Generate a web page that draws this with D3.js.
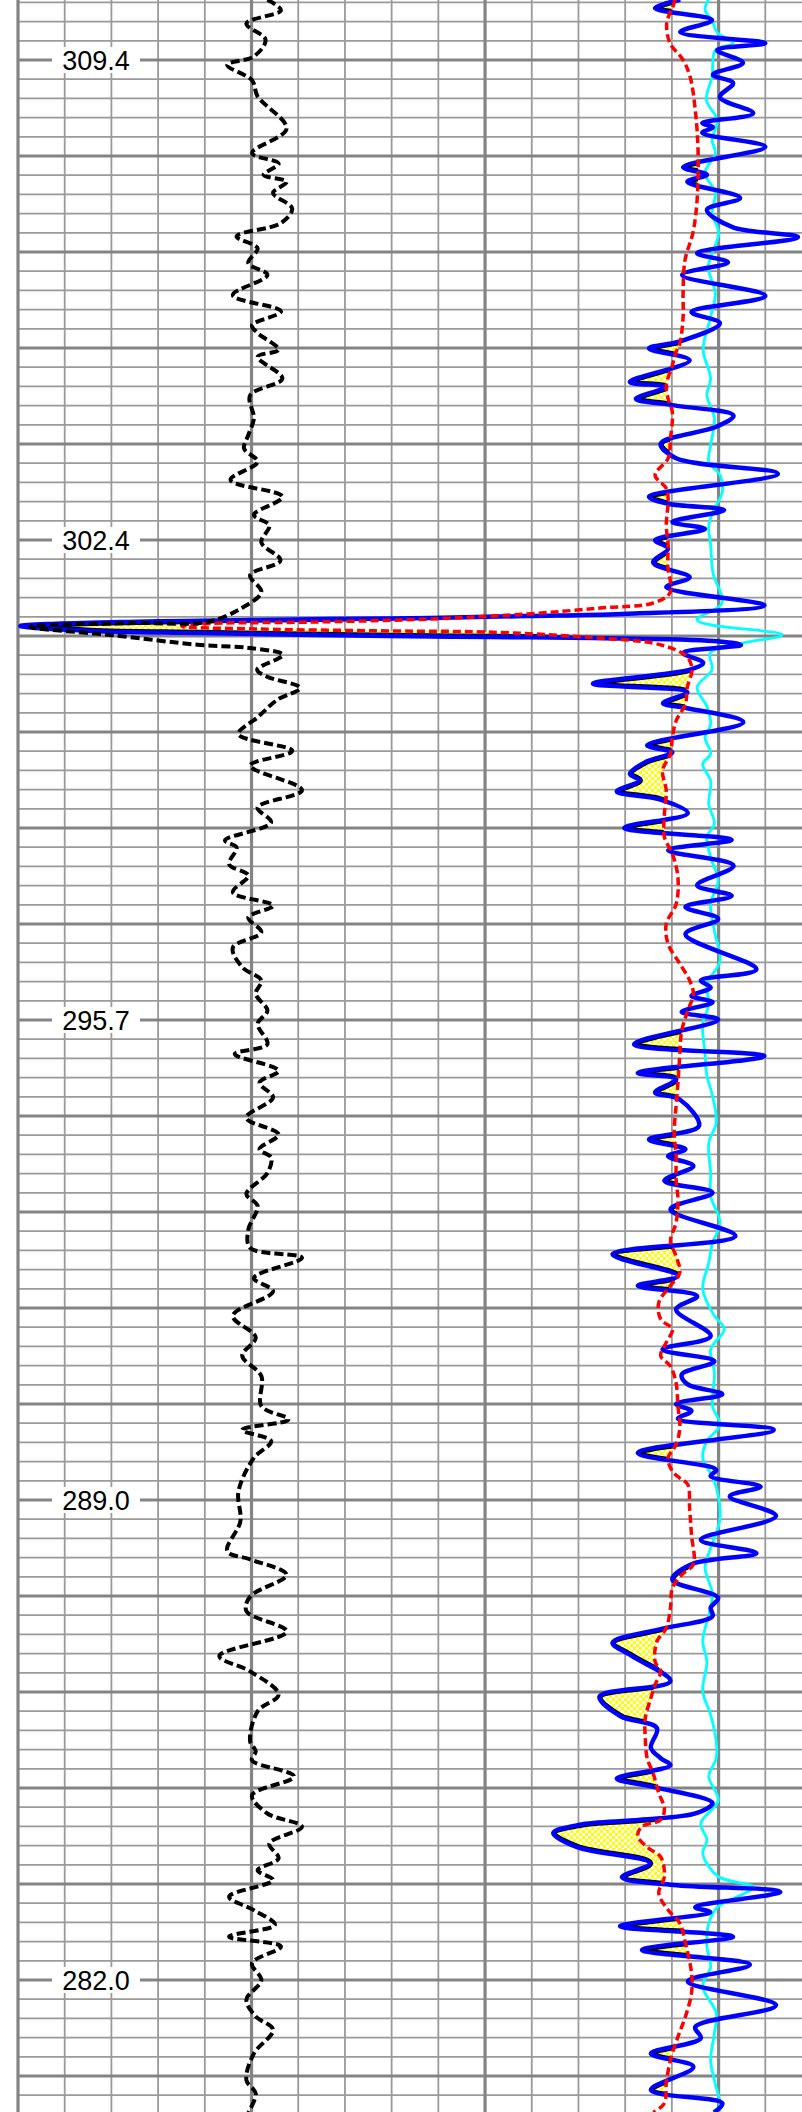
<!DOCTYPE html>
<meta charset="utf-8">
<style>
    body { margin: 0; background: #fff; }
    svg { display: block; }
    .lbl { font-family: "Liberation Sans", Arial, sans-serif; font-size: 27px; fill: #000; }
</style>
<svg width="802" height="2112"></svg>
<script src="https://cdnjs.cloudflare.com/ajax/libs/d3/7.8.5/d3.min.js"></script>
<script>
    // depth labels on the left, one every 25 grid rows
    var depthLabels = ["309.4", "302.4", "295.7", "289.0", "282.0"];

    var blackCurve = [
        [310.26,53.4],[310.11,56.3],[309.92,48.9],[309.69,53.0],[309.45,50.5],[309.33,44.8],[309.11,50.1],[308.88,51.3],
        [308.42,57.5],[308.07,50.1],[307.92,55.8],[307.76,52.6],[307.66,57.5],[307.50,54.6],[307.28,58.7],[307.07,56.3],
        [306.88,46.8],[306.71,51.3],[306.50,49.3],[306.33,53.4],[306.04,46.0],[305.81,56.3],[305.61,50.1],[305.50,51.3],
        [305.26,55.8],[305.16,51.3],[304.85,56.6],[304.61,49.7],[304.28,50.5],[304.04,49.3],[303.85,48.4],[303.66,51.3],
        [303.40,45.5],[303.16,56.6],[302.90,50.5],[302.75,53.8],[302.51,52.1],[302.25,56.2],[302.04,49.7],[301.80,52.1],
        [301.56,47.6],[301.371,40.5],[301.357,24.6],[301.300,2.6],[301.186,19.7],[301.043,39.0],[301.000,49.7],[300.900,56.7],
        [300.69,51.2],[300.59,53.3],[300.43,60.4],[300.26,55.5],[300.01,51.3],[299.77,47.2],[299.53,58.7],[299.32,49.7],
        [298.97,60.8],[298.72,51.3],[298.51,54.2],[298.25,44.3],[298.15,46.8],[297.91,45.2],[297.75,49.3],[297.51,46.0],
        [297.32,54.6],[297.15,49.3],[296.94,52.1],[296.72,46.0],[296.44,48.0],[296.25,52.1],[296.06,50.9],[295.82,53.4],
        [295.63,51.3],[295.34,53.4],[295.20,46.4],[294.96,55.8],[294.79,51.7],[294.58,54.6],[294.29,48.9],[294.05,55.8],
        [293.84,51.7],[293.72,54.2],[293.50,53.4],[293.20,48.9],[293.03,51.3],[292.69,49.3],[292.43,49.7],[292.29,60.8],
        [292.00,50.5],[291.81,54.6],[291.46,46.0],[291.15,50.9],[290.89,48.0],[290.60,52.1],[290.17,52.1],[289.98,57.9],
        [289.83,48.0],[289.67,54.2],[289.43,50.5],[288.95,47.2],[288.52,47.6],[288.10,44.8],[287.98,49.7],[287.76,57.5],
        [287.45,49.7],[287.24,48.9],[286.95,57.5],[286.60,43.1],[286.38,49.7],[286.05,55.8],[285.81,51.3],[285.38,49.7],
        [285.24,50.9],[285.11,50.1],[284.88,59.1],[284.61,50.1],[284.35,53.4],[284.16,60.8],[283.92,53.8],[283.71,55.8],
        [283.54,51.3],[283.40,54.6],[283.16,45.2],[282.97,50.5],[282.76,55.0],[282.59,45.2],[282.45,56.3],[282.21,50.1],
        [281.97,52.1],[281.69,48.9],[281.45,50.9],[281.26,54.6],[280.92,50.5],[280.54,48.9],[280.35,50.9],[280.08,49.3]
    ];

    var blueCurve = [
        [310.26,141.8],[310.14,136.4],[309.97,148.6],[309.80,141.8],[309.64,160.0],[309.54,149.7],[309.36,155.2],[309.19,148.8],
        [309.07,153.1],[308.87,150.3],[308.64,157.4],[308.50,146.5],[308.44,148.8],[308.36,146.5],[308.16,160.0],[307.87,142.4],
        [307.76,147.5],[307.66,143.3],[307.43,154.6],[307.26,147.5],[307.01,153.1],[306.87,167.0],[306.64,145.4],[306.51,152.0],
        [306.33,142.2],[306.03,160.0],[305.80,144.2],[305.64,150.3],[305.38,141.7],[305.28,135.1],[305.11,143.8],[304.80,131.0],
        [304.73,138.8],[304.56,132.3],[304.47,140.1],[304.32,153.2],[304.16,149.5],[303.92,137.6],[303.71,140.9],[303.49,162.7],
        [303.16,135.1],[303.06,139.2],[302.97,151.2],[302.80,140.1],[302.70,147.1],[302.54,136.4],[302.42,139.2],[302.22,136.0],
        [302.01,143.8],[301.87,138.8],[301.61,159.8],[301.486,129.3],[301.457,108.8],[301.429,88.2],[301.414,66.8],[301.400,49.7],
        [301.371,21.8],[301.314,0.5],[301.243,15.4],[301.214,39.0],[301.186,63.6],[301.171,79.2],[301.157,101.5],[301.143,122.9],
        [301.100,149.0],[301.043,154.8],[300.93,142.4],[300.79,146.7],[300.69,143.9],[300.49,123.1],[300.37,143.3],[300.21,138.1],
        [300.14,143.3],[299.94,155.3],[299.61,134.7],[299.51,140.1],[299.37,134.3],[299.20,131.0],[299.11,133.1],[298.95,128.2],
        [298.84,137.2],[298.64,143.4],[298.43,129.8],[298.26,152.8],[298.11,139.2],[297.89,153.2],[297.61,145.4],[297.46,152.8],
        [297.30,142.9],[297.13,149.9],[296.91,142.9],[296.41,158.1],[296.25,146.2],[296.15,148.3],[296.03,144.2],[295.94,148.7],
        [295.80,142.1],[295.69,149.9],[295.34,131.9],[295.17,159.8],[294.93,132.7],[294.84,140.9],[294.65,136.4],[294.55,141.7],
        [294.17,145.8],[293.98,135.1],[293.84,142.9],[293.74,139.2],[293.60,144.6],[293.39,138.4],[293.22,148.7],[292.98,139.7],
        [292.60,153.6],[292.34,127.3],[292.03,141.3],[291.89,132.7],[291.74,145.4],[291.55,140.9],[291.17,148.3],[290.98,138.0],
        [290.81,149.1],[290.62,142.1],[290.48,143.4],[290.34,150.8],[290.20,140.9],[290.10,144.2],[289.99,141.3],[289.83,161.8],
        [289.50,132.7],[289.26,149.5],[289.17,148.3],[289.02,159.0],[288.88,152.4],[288.60,162.3],[288.26,146.2],[288.07,158.1],
        [287.91,144.2],[287.69,140.1],[287.43,149.9],[287.29,148.3],[287.17,148.7],[286.99,138.0],[286.79,127.3],[286.60,131.4],
        [286.24,139.7],[286.02,124.5],[285.74,129.0],[285.57,136.8],[285.29,135.5],[285.14,137.6],[285.04,139.7],[284.85,128.2],
        [284.73,136.0],[284.50,148.7],[284.36,145.4],[284.26,133.2],[284.19,120.3],[284.07,114.6],[283.87,119.7],[283.64,135.3],
        [283.44,129.3],[283.33,140.3],[283.23,163.2],[283.01,145.0],[282.94,148.2],[282.74,128.9],[282.59,153.1],[282.40,133.6],
        [282.19,156.7],[281.95,143.4],[281.61,162.3],[281.30,145.0],[281.14,146.2],[280.92,135.5],[280.73,144.6],[280.40,135.5],
        [280.21,150.8],[280.08,149.0]
    ];

    var redCurve = [
        [310.26,140.7],[310.16,140.2],[309.93,138.9],[309.64,139.6],[309.40,142.4],[309.16,143.9],[308.69,145.0],[308.11,145.6],
        [307.40,145.4],[306.93,144.5],[306.54,142.8],[306.07,142.4],[305.73,142.4],[305.35,141.7],[305.23,140.9],[305.04,140.1],
        [304.75,138.8],[304.56,139.2],[304.37,140.1],[303.99,139.7],[303.71,139.2],[303.47,136.4],[303.28,138.8],[303.13,139.2],
        [302.75,138.8],[302.47,139.2],[302.18,139.1],[301.79,139.6],[301.643,136.0],[301.571,124.6],[301.486,109.0],[301.414,88.2],
        [301.371,63.6],[301.343,39.0],[301.307,35.1],[301.271,51.4],[301.243,80.1],[301.229,99.8],[301.157,121.2],[301.043,137.7],
        [300.87,143.3],[300.69,144.3],[300.44,143.3],[300.20,142.9],[299.96,140.9],[299.72,140.1],[299.49,139.7],[299.25,138.0],
        [298.96,138.8],[298.63,138.4],[298.30,138.4],[298.06,140.1],[297.72,141.3],[297.34,140.9],[297.06,138.8],[296.77,139.2],
        [296.49,141.7],[296.25,143.8],[296.06,144.6],[295.82,143.4],[295.53,142.1],[295.20,141.7],[294.79,141.3],[294.46,140.9],
        [294.08,140.5],[293.74,140.9],[293.41,140.9],[293.12,141.3],[292.79,140.9],[292.53,139.7],[292.31,140.9],[292.08,141.7],
        [291.89,139.7],[291.65,137.2],[291.41,137.6],[291.27,140.1],[291.08,138.8],[290.89,137.6],[290.74,139.7],[290.50,140.9],
        [290.17,141.3],[289.86,141.7],[289.62,140.9],[289.43,139.2],[289.24,140.1],[289.14,141.7],[289.05,143.4],[288.71,143.8],
        [288.33,144.2],[287.91,144.6],[287.76,142.1],[287.57,140.1],[287.29,139.7],[287.00,138.8],[286.81,136.8],[286.52,136.4],
        [286.38,137.6],[286.19,136.4],[286.00,135.5],[285.71,134.3],[285.43,134.3],[285.14,134.7],[284.92,136.0],[284.64,137.2],
        [284.42,138.4],[284.26,137.6],[284.16,133.5],[284.02,132.7],[283.85,135.1],[283.73,137.6],[283.45,138.4],[283.21,137.2],
        [282.97,139.2],[282.78,141.7],[282.50,142.9],[282.07,144.2],[281.78,144.2],[281.45,142.9],[281.16,141.3],[280.83,139.7],
        [280.50,138.8],[280.21,138.4],[280.08,136.0]
    ];

    var cyanCurve = [
        [310.26,147.8],[310.11,147.1],[309.97,148.6],[309.79,149.7],[309.64,153.1],[309.54,149.3],[309.16,148.6],[308.83,147.4],
        [308.54,149.7],[308.26,148.6],[308.07,149.3],[307.79,147.1],[307.50,149.3],[307.21,148.6],[306.93,150.0],[306.44,147.8],
        [306.07,149.3],[305.73,148.3],[305.26,146.7],[304.85,148.3],[304.61,147.5],[304.28,149.1],[303.90,148.3],[303.66,147.9],
        [303.47,150.3],[303.23,150.8],[302.99,149.1],[302.75,147.9],[302.47,148.3],[302.07,148.8],[301.64,150.7],[301.40,145.4],
        [301.19,163.6],[301.07,155.2],[300.93,148.2],[300.69,148.6],[300.44,145.4],[300.16,147.5],[299.91,148.3],[299.72,147.1],
        [299.49,148.3],[299.34,146.6],[299.10,148.3],[298.77,147.9],[298.49,149.1],[298.30,147.5],[298.01,148.3],[297.68,149.9],
        [297.34,148.3],[296.96,149.1],[296.53,150.3],[296.20,147.5],[295.91,147.9],[295.63,146.6],[295.20,147.1],[294.89,147.5],
        [294.60,148.7],[294.22,149.5],[293.93,147.9],[293.50,148.3],[293.17,148.3],[292.79,150.3],[292.50,148.7],[292.22,147.9],
        [291.84,146.6],[291.46,149.1],[291.27,151.2],[290.98,148.3],[290.65,149.1],[290.17,148.7],[289.90,150.3],[289.67,147.5],
        [289.43,146.6],[289.10,149.1],[288.57,150.3],[288.14,148.3],[287.86,147.1],[287.48,148.7],[287.19,147.9],[286.81,146.6],
        [286.52,147.5],[286.10,146.6],[285.76,148.3],[285.38,149.5],[285.14,149.5],[284.88,147.9],[284.54,149.9],[284.21,146.2],
        [283.97,147.5],[283.78,146.6],[283.45,149.9],[283.30,157.4],[283.16,154.0],[283.02,149.9],[282.78,147.9],[282.45,147.5],
        [282.16,148.3],[281.88,146.6],[281.50,149.5],[281.21,149.1],[280.83,148.3],[280.54,149.1],[280.21,150.3],[280.08,150.0]
    ];

    var svg = d3.select("svg"),
        width = +svg.attr("width"),
        height = +svg.attr("height");

    var pxPerM = 70,
        topDepth = 309.4 + 60 / pxPerM,
        rowStep = 19.2 / pxPerM;   // one grid row in metres

    var y = d3.scaleLinear().domain([topDepth, topDepth - height / pxPerM]).range([0, height]);
    var x = d3.scaleLinear().domain([0, 170]).range([18, 812]);

    // grid
    var grid = svg.append("g");
    var rows = d3.range(-3, 107);
    var cols = d3.range(0, 171, 10);

    grid.selectAll(".vmin").data(cols.filter(function (c) { return c % 50 !== 0; }))
        .enter().append("line")
        .attr("x1", function (c) { return x(c); }).attr("x2", function (c) { return x(c); })
        .attr("y1", 0).attr("y2", height)
        .attr("stroke", "#9a9a9a").attr("stroke-width", 1.8);

    grid.selectAll(".hmin").data(rows.filter(function (k) { return k % 5 !== 0; }))
        .enter().append("line")
        .attr("x1", x(0)).attr("x2", width)
        .attr("y1", function (k) { return y(309.4 - k * rowStep); })
        .attr("y2", function (k) { return y(309.4 - k * rowStep); })
        .attr("stroke", "#9a9a9a").attr("stroke-width", 1.8);

    grid.selectAll(".hmaj").data(rows.filter(function (k) { return k % 5 === 0; }))
        .enter().append("line")
        .attr("x1", x(0)).attr("x2", width)
        .attr("y1", function (k) { return y(309.4 - k * rowStep); })
        .attr("y2", function (k) { return y(309.4 - k * rowStep); })
        .attr("stroke", "#848484").attr("stroke-width", 3.2);

    grid.selectAll(".vmaj").data(cols.filter(function (c) { return c % 50 === 0; }))
        .enter().append("line")
        .attr("x1", function (c) { return x(c); }).attr("x2", function (c) { return x(c); })
        .attr("y1", 0).attr("y2", height)
        .attr("stroke", "#848484").attr("stroke-width", 3.2);

    // depth labels
    var lab = svg.append("g").selectAll("g").data(depthLabels).enter().append("g")
        .attr("transform", function (d, i) { return "translate(96," + y(309.4 - i * 25 * rowStep) + ")"; });
    lab.append("rect").attr("x", -44).attr("y", -13).attr("width", 88).attr("height", 26).attr("fill", "#fff");
    lab.append("text").attr("class", "lbl").attr("text-anchor", "middle").attr("dy", "0.36em")
        .text(function (d) { return d; });

    // curves
    var line = d3.line()
        .x(function (d) { return x(d[1]); })
        .y(function (d) { return y(d[0]); })
        .curve(d3.curveCatmullRom.alpha(0.5));

    var bluePath = line(blueCurve),
        redPath = line(redCurve);

    var rightOfBlue = bluePath + "L" + (width + 20) + "," + (height + 20) + "L" + (width + 20) + ",-20Z";
    var leftOfRed = redPath + "L-20," + (height + 20) + "L-20,-20Z";

    var defs = svg.append("defs");
    var pat = defs.append("pattern").attr("id", "chk")
        .attr("patternUnits", "userSpaceOnUse").attr("width", 6).attr("height", 6);
    pat.append("rect").attr("width", 6).attr("height", 6).attr("fill", "#fff");
    pat.append("rect").attr("width", 3).attr("height", 3).attr("fill", "#ffff00");
    pat.append("rect").attr("x", 3).attr("y", 3).attr("width", 3).attr("height", 3).attr("fill", "#ffff00");

    defs.append("clipPath").attr("id", "clipRed").append("path").attr("d", leftOfRed);
    defs.append("clipPath").attr("id", "clipBlue").append("path").attr("d", rightOfBlue);

    // yellow where blue sits left of red
    var fill = svg.append("g").attr("clip-path", "url(#clipRed)");
    fill.append("path").attr("d", rightOfBlue).attr("fill", "url(#chk)");
    fill.append("g").attr("clip-path", "url(#clipBlue)")
        .append("path").attr("d", bluePath)
        .attr("fill", "none").attr("stroke", "#000").attr("stroke-width", 6.5);

    svg.append("path").attr("d", line(cyanCurve))
        .attr("fill", "none").attr("stroke", "#00ffff").attr("stroke-width", 2.8)
        .attr("stroke-linejoin", "round");

    svg.append("path").attr("d", bluePath)
        .attr("fill", "none").attr("stroke", "#0000ff").attr("stroke-width", 4.5)
        .attr("stroke-linejoin", "round");

    svg.append("path").attr("d", redPath)
        .attr("fill", "none").attr("stroke", "#ff0000").attr("stroke-width", 3.5)
        .attr("stroke-dasharray", "8,4");

    svg.append("path").attr("d", line(blackCurve))
        .attr("fill", "none").attr("stroke", "#000").attr("stroke-width", 4)
        .attr("stroke-dasharray", "9,4");
</script>
